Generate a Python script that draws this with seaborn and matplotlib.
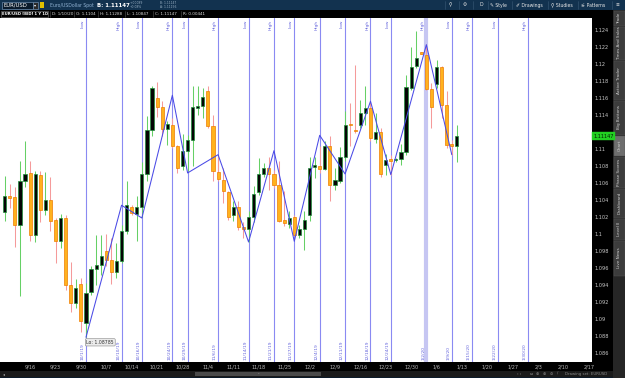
import numpy as np
import pandas as pd
import matplotlib
matplotlib.use("Agg")
import matplotlib.pyplot as plt
import matplotlib.transforms as mtrans
from matplotlib.patches import Rectangle
import seaborn as sns

# ---------------- data ----------------
start_date = "2019-09-09"
opens = [1.10255, 1.10443, 1.10431, 1.10102, 1.10627, 1.10717, 1.09992, 1.10698, 1.10286, 1.10396,
         1.10164, 1.09921, 1.10188, 1.09404, 1.09188, 1.09416, 1.08953, 1.09318, 1.09592, 1.09631,
         1.09804, 1.09694, 1.09553, 1.09686, 1.10039, 1.10314, 1.10235, 1.10314, 1.10706, 1.11228,
         1.11600, 1.11490, 1.11239, 1.11286, 1.11031, 1.10796, 1.10980, 1.11110, 1.11482, 1.11502,
         1.11678, 1.11267, 1.10729, 1.10639, 1.10494, 1.10227, 1.10314, 1.10082, 1.10063, 1.10196,
         1.10494, 1.10706, 1.10776, 1.10706, 1.10572, 1.10164, 1.10117, 1.10196, 1.09984, 1.10063,
         1.10227, 1.10784, 1.10796, 1.10768, 1.11031, 1.10580, 1.10627, 1.10902, 1.11294, 1.11228,
         1.11278, 1.11423, 1.11482, 1.11121, 1.11200, 1.10808, 1.10878, 1.10870, 1.10886, 1.10961,
         1.11718, 1.11972, 1.12137, 1.12110, 1.11706, 1.11768, 1.11965, 1.11514, 1.11059, 1.11040]
highs = [1.10678, 1.10588, 1.10549, 1.10862, 1.11090, 1.10855, 1.10745, 1.10745, 1.10729, 1.10666,
         1.10188, 1.10235, 1.10219, 1.09671, 1.09475, 1.09482, 1.09424, 1.09620, 1.09992, 1.09992,
         1.10000, 1.09953, 1.09894, 1.10102, 1.10619, 1.10345, 1.10443, 1.10847, 1.11384, 1.11737,
         1.11788, 1.11561, 1.11325, 1.11365, 1.11051, 1.11176, 1.11169, 1.11737, 1.11737, 1.11718,
         1.11737, 1.11404, 1.10933, 1.10776, 1.10502, 1.10384, 1.10384, 1.10141, 1.10274, 1.10561,
         1.10894, 1.10835, 1.10902, 1.10757, 1.10862, 1.10502, 1.10267, 1.10227, 1.10102, 1.10267,
         1.10902, 1.10902, 1.11031, 1.11098, 1.11149, 1.10776, 1.11019, 1.11443, 1.11541, 1.11984,
         1.11580, 1.11737, 1.11561, 1.11423, 1.11247, 1.10941, 1.10933, 1.10890, 1.11059, 1.11874,
         1.12196, 1.12392, 1.12141, 1.12235, 1.11776, 1.12051, 1.11972, 1.11678, 1.11106, 1.11288]
lows = [1.10149, 1.10306, 1.09843, 1.09267, 1.10549, 1.09921, 1.09906, 1.10141, 1.10227, 1.10031,
        1.09659, 1.09835, 1.09345, 1.09082, 1.09129, 1.08847, 1.08785, 1.09286, 1.09404, 1.09522,
        1.09620, 1.09412, 1.09482, 1.09659, 1.10000, 1.10227, 1.09921, 1.10196, 1.10619, 1.11149,
        1.11372, 1.11149, 1.11051, 1.11012, 1.10717, 1.10757, 1.10737, 1.10796, 1.11404, 1.11365,
        1.11247, 1.10627, 1.10619, 1.10365, 1.10168, 1.10157, 1.10051, 1.09953, 1.09906, 1.10141,
        1.10463, 1.10666, 1.10521, 1.10541, 1.10141, 1.10090, 1.10070, 1.09972, 1.09953, 1.09815,
        1.10149, 1.10659, 1.10717, 1.10753, 1.10392, 1.10521, 1.10600, 1.10862, 1.11031, 1.11188,
        1.11247, 1.11286, 1.11098, 1.11071, 1.10666, 1.10698, 1.10698, 1.10850, 1.10816, 1.10933,
        1.11698, 1.11953, 1.12114, 1.11698, 1.11247, 1.11718, 1.11365, 1.11012, 1.10929, 1.10847]
closes = [1.10443, 1.10423, 1.10102, 1.10619, 1.10706, 1.09992, 1.10706, 1.10286, 1.10404, 1.10149,
          1.09921, 1.10188, 1.09404, 1.09188, 1.09365, 1.08973, 1.09306, 1.09592, 1.09631, 1.09741,
          1.09694, 1.09553, 1.09686, 1.10039, 1.10337, 1.10247, 1.10314, 1.10706, 1.11228, 1.11718,
          1.11490, 1.11239, 1.11294, 1.11031, 1.10776, 1.10980, 1.11110, 1.11490, 1.11502, 1.11608,
          1.11267, 1.10737, 1.10651, 1.10502, 1.10196, 1.10314, 1.10078, 1.10059, 1.10196, 1.10470,
          1.10706, 1.10776, 1.10706, 1.10572, 1.10157, 1.10125, 1.10188, 1.09984, 1.10063, 1.10168,
          1.10776, 1.10816, 1.10768, 1.11039, 1.10580, 1.10635, 1.10902, 1.11286, 1.11278, 1.11216,
          1.11423, 1.11482, 1.11129, 1.11200, 1.10706, 1.10874, 1.10862, 1.10875, 1.10961, 1.11725,
          1.11965, 1.12070, 1.12117, 1.11706, 1.11490, 1.11965, 1.11514, 1.11043, 1.11035, 1.11147]

zz_idx = [16, 23, 27, 33, 36, 42, 48, 53, 57, 62, 67, 72, 76, 83, 88]
zz_price = [1.08785, 1.10338, 1.10188, 1.11632, 1.10718, 1.10933, 1.09906, 1.10980, 1.09914,
            1.11161, 1.10706, 1.11561, 1.10698, 1.12227, 1.10933]
pivot_idx = zz_idx + [92, 97, 103]
pivot_kind = ["Low", "High", "Low", "High", "Low", "High", "Low", "High", "Low",
              "High", "Low", "High", "Low", "High", "Low", "High", "Low", "High"]
week_idx = [5, 10, 15, 20, 25, 30, 35, 40, 45, 50, 55, 60, 65, 70, 75, 80, 85, 90, 95, 100, 105, 110, 115]
week_labels = ["9/16", "9/23", "9/30", "10/7", "10/14", "10/21", "10/28", "11/4", "11/11", "11/18",
               "11/25", "12/2", "12/9", "12/16", "12/23", "12/30", "1/6", "1/13", "1/20", "1/27",
               "2/3", "2/10", "2/17"]
price_ticks = [1.086, 1.088, 1.09, 1.092, 1.094, 1.096, 1.098, 1.1, 1.102, 1.104, 1.106,
               1.108, 1.11, 1.112, 1.114, 1.116, 1.118, 1.12, 1.122, 1.124]
last_price = 1.11147
low_label = "Lo: 1.08785"
highlight_pivot = 83

# ---------------- style ----------------
sns.set_theme(style="white")
plt.rcParams["font.family"] = ["DejaVu Sans", "Noto Sans", "Noto Sans CJK SC"]

W, H = 625, 378
fig = plt.figure(figsize=(W / 100, H / 100), dpi=100)
fig.patch.set_facecolor("#0d1b2a")

# background / chrome axes in pixel coordinates
bg = fig.add_axes([0, 0, 1, 1], zorder=0)
bg.set_xlim(0, W)
bg.set_ylim(H, 0)
bg.axis("off")

def rect(x0, y0, x1, y1, fc, ec="none", lw=0.0, z=1):
    bg.add_patch(Rectangle((x0, y0), x1 - x0, y1 - y0, facecolor=fc, edgecolor=ec, linewidth=lw, zorder=z))

rect(0, 0, W, H, "#0d1b2a")
rect(0, 0, W, 10, "#12324f")
rect(0, 10, 613, 18, "#000000")
rect(592, 18, 613, 371, "#000000")
rect(0, 362, 613, 371, "#000000")
rect(0, 371, 613, 376.5, "#1a1a1a")
rect(195, 371.8, 321, 375.8, "#4a4a4a")
rect(613, 10, W, H, "#262626")

# header top row
rect(2, 1.5, 33, 8.5, "#0a1b2c", "#6d8bab", 0.5, 2)
bg.text(4, 5.2, "EUR/USD", color="white", fontsize=3.8, va="center", zorder=3)
rect(33, 1.5, 38, 8.5, "#2a2a2a", "#6d8bab", 0.5, 2)
bg.text(35.5, 5, "▾", color="white", fontsize=3, va="center", ha="center", zorder=3)
rect(40, 2, 44, 8, "#e0c000", z=2)
bg.text(50, 5, "Euro/USDollar Spot", color="#8fb0d0", fontsize=3.3, va="center", zorder=3)
bg.text(97, 5.2, "B: 1.11147", color="white", fontsize=3.9, fontweight="bold", va="center", zorder=3)
bg.text(130, 2.9, "+.00089", color="#9ab0c4", fontsize=2.2, va="center", zorder=3)
bg.text(130, 7.4, "+0.08%", color="#9ab0c4", fontsize=2.2, va="center", zorder=3)
bg.text(160, 2.9, "B: 1.11147", color="#9ab0c4", fontsize=2.2, va="center", zorder=3)
bg.text(160, 7.4, "A: 1.11156", color="#9ab0c4", fontsize=2.2, va="center", zorder=3)
for x_, t_ in [(449, "⚲"), (463, "⚙"), (479, "D"), (490, "✎ Style"), (516, "✐ Drawings"),
               (551, "⚲ Studies"), (581, "⚟ Patterns"), (616, "≡")]:
    bg.text(x_, 5, t_, color="#e6e6e6", fontsize=3.3, va="center", zorder=3)
for x_ in [445, 459, 473, 488, 512, 548, 578, 612]:
    bg.plot([x_, x_], [1, 9], color="#3b5a78", lw=0.4, zorder=3)

# header second row
rect(1, 11, 48, 17, "#000000", "#777777", 0.4, 2)
bg.text(2.3, 14, "EUR/USD [BID] 1 Y 1D", color="white", fontsize=2.7, fontweight="bold", va="center", zorder=3)
info = [(52, "D: 1/10/20"), (76, "O: 1.1104"), (100, "H: 1.11288"), (127, "L: 1.10847"),
        (155, "C: 1.11147"), (183, "R: 0.00441")]
for x_, t_ in info:
    bg.text(x_, 14, t_, color="#d8d8d8", fontsize=3.0, va="center", zorder=3)
    bg.plot([x_ - 2, x_ - 2], [11, 17], color="#555555", lw=0.4, zorder=3)

# right sidebar tabs
tabs = [("Trade", 10, 26), ("Times And Sales", 26, 60), ("Active Trader", 60, 100),
        ("Big Buttons", 100, 135), ("Chart", 135, 156), ("Phase Scores", 156, 188),
        ("Dashboard", 188, 218), ("Level II", 218, 240), ("Live News", 240, 276)]
for name, y0, y1 in tabs:
    rect(614, y0 + 0.5, 624.5, y1 - 0.5, "#6e6e6e" if name == "Chart" else "#3c3c3c", "#555555", 0.3, 2)
    bg.text(619.3, (y0 + y1) / 2, name, color="#d0d0d0", fontsize=3.0, rotation=90,
            ha="center", va="center", zorder=3)

# footer
bg.text(3, 374, "◂", color="#aaaaaa", fontsize=2.8, va="center", zorder=3)
bg.text(258, 373.8, "·", color="#bbbbbb", fontsize=4, va="center", ha="center", zorder=3)
bg.text(517, 374, "‹ ›", color="#aaaaaa", fontsize=2.8, va="center", zorder=3)
for x_, t_ in [(530, "⇔"), (536, "⊕"), (543, "⊕"), (550, "⊖"), (557, "∕")]:
    bg.text(x_, 374, t_, color="#8a8a8a", fontsize=2.8, va="center", zorder=3)
bg.text(565, 374, "Drawing set: EURUSD", color="#8a8a8a", fontsize=2.8, va="center", zorder=3)

# ---------------- main chart ----------------
ax = fig.add_axes([0 / W, 1 - 362 / H, 592 / W, 344 / H], zorder=2)
ax.set_facecolor("white")
n = len(opens)
idx = np.arange(n)
o = np.array(opens); c = np.array(closes); hi = np.array(highs); lo = np.array(lows)
up = c >= o

# vertical pivot lines
for pi in pivot_idx:
    if pi == highlight_pivot:
        ax.axvline(pi, color="#c6c6f2", lw=3.0, zorder=1)
    else:
        ax.axvline(pi, color="#8a8af2", lw=0.8, zorder=1)

# wicks
wick_col = np.where(up, "#66d066", "#f59a9a")
ax.vlines(idx, lo, hi, colors=wick_col, lw=0.75, zorder=2)
# bodies
body_bottom = np.minimum(o, c)
body_h = np.maximum(np.abs(c - o), 0.00012)
ax.bar(idx, body_h, bottom=body_bottom, width=0.62,
       color=np.where(up, "#050505", "#ffb21e"),
       edgecolor=np.where(up, "#1f8f3a", "#ef7d00"), linewidth=0.5, zorder=3)

# zigzag
sns.lineplot(x=zz_idx, y=zz_price, ax=ax, sort=False, color="#4a4ae6", lw=0.75, zorder=4)

# pivot text labels
all_dates = pd.bdate_range(start_date, periods=120)
for pi, kind in zip(pivot_idx, pivot_kind):
    ax.text(pi - 0.25, 0.995, kind, transform=mtrans.blended_transform_factory(ax.transData, ax.transAxes),
            rotation=90, ha="right", va="top", fontsize=3.2, color="#6464dc", zorder=5)
    d = all_dates[pi]
    ax.text(pi - 0.25, 0.005, f"{d.month}/{d.day}/{d.strftime('%y')}",
            transform=mtrans.blended_transform_factory(ax.transData, ax.transAxes),
            rotation=90, ha="right", va="bottom", fontsize=3.2, color="#6464dc", zorder=5)

ax.text(zz_idx[0] + 0.1, zz_price[0] - 0.0003, low_label, ha="left", va="top", fontsize=3.3,
        color="#333333", zorder=6,
        bbox=dict(boxstyle="round,pad=0.25", fc="#ececec", ec="#9a9a9a", lw=0.5))

ax.set_xlim(-0.925, 115.6)
ax.set_ylim(1.08494, 1.12541)
for s in ax.spines.values():
    s.set_visible(False)
ax.grid(False)

ax.set_xticks(week_idx)
ax.set_xticklabels(week_labels)
ax.tick_params(axis="x", length=0, pad=2.0, labelsize=3.6, colors="#b8b8b8")
ax.yaxis.tick_right()
ax.set_yticks(price_ticks)
ax.set_yticklabels([f"{p:.3f}".rstrip("0").rstrip(".") for p in price_ticks])
ax.tick_params(axis="y", length=0, pad=1.5, labelsize=3.6, colors="#c8c8c8")
for lab in ax.get_yticklabels():
    if abs(float(lab.get_text()) - 1.112) < 1e-9:
        lab.set_visible(False)

ax.text(1.002, last_price, f"{last_price:.5f}",
        transform=mtrans.blended_transform_factory(ax.transAxes, ax.transData),
        ha="left", va="center", fontsize=3.6, color="#001a00", zorder=7, clip_on=False,
        bbox=dict(boxstyle="square,pad=0.3", fc="#22d022", ec="#22d022", lw=0.3))

fig.savefig("out.png", dpi=100, facecolor=fig.get_facecolor())
